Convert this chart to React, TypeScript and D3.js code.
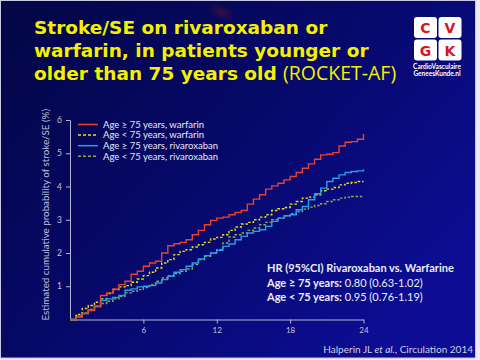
import { useEffect, useRef } from "react";
import * as d3 from "d3";

// months 0..24, every half month
const months = d3.range(0, 24.5, 0.5);

const warfarinOld = [
  0, 0.08, 0.18, 0.27, 0.38, 0.72, 0.8, 0.92, 1.05, 1.15, 1.36, 1.45, 1.6,
  1.7, 1.75, 2.0, 2.22, 2.28, 2.32, 2.4, 2.55, 2.68, 2.85, 2.98, 3.05, 3.08,
  3.15, 3.22, 3.28, 3.47, 3.62, 3.75, 3.92, 4.02, 4.1, 4.2, 4.3, 4.42, 4.55,
  4.68, 4.82, 4.95, 4.97, 5.02, 5.22, 5.33, 5.35, 5.42, 5.58,
];
const warfarinYoung = [
  0, 0.15, 0.33, 0.42, 0.52, 0.62, 0.78, 0.9, 0.98, 1.02, 1.12, 1.22, 1.32,
  1.42, 1.55, 1.7, 1.8, 1.95, 2.05, 2.1, 2.18, 2.25, 2.32, 2.42, 2.47, 2.55,
  2.68, 2.78, 2.87, 2.92, 3.0, 3.08, 3.15, 3.28, 3.33, 3.37, 3.47, 3.55, 3.65,
  3.68, 3.75, 3.87, 3.92, 3.97, 4.05, 4.1, 4.12, 4.15, 4.15,
];
const rivaOld = [
  0, 0.08, 0.18, 0.28, 0.4, 0.57, 0.62, 0.66, 0.72, 0.88, 0.92, 0.98, 1.0,
  1.02, 1.1, 1.2, 1.3, 1.42, 1.5, 1.6, 1.7, 1.82, 1.92, 2.0, 2.08, 2.2, 2.27,
  2.4, 2.5, 2.6, 2.65, 2.7, 2.8, 2.95, 3.05, 3.12, 3.15, 3.3, 3.4, 3.6, 3.78,
  3.95, 4.15, 4.25, 4.35, 4.42, 4.45, 4.47, 4.52,
];
const rivaYoung = [
  0, 0.1, 0.2, 0.3, 0.4, 0.48, 0.55, 0.62, 0.7, 0.8, 0.85, 0.9, 0.96, 1.05,
  1.15, 1.25, 1.32, 1.38, 1.45, 1.52, 1.65, 1.8, 1.9, 2.0, 2.1, 2.3, 2.48,
  2.55, 2.6, 2.68, 2.75, 2.85, 2.92, 3.0, 3.05, 3.12, 3.18, 3.25, 3.32, 3.38,
  3.43, 3.48, 3.55, 3.6, 3.65, 3.68, 3.7, 3.7, 3.7,
];

const seriesNames = [
  "Age ≥ 75 years, warfarin",
  "Age < 75 years, warfarin",
  "Age ≥ 75 years, rivaroxaban",
  "Age < 75 years, rivaroxaban",
];
const seriesValues = [warfarinOld, warfarinYoung, rivaOld, rivaYoung];
const seriesColors = ["#e8432e", "#e6df10", "#2a9ce6", "#8fa84a"];
const seriesDashed = [false, true, false, true];

const yTicks = [1, 2, 3, 4, 5, 6];
const xTicks = [6, 12, 18, 24];

const titleLines = [
  "Stroke/SE on rivaroxaban or",
  "warfarin, in patients younger or",
  "older than 75 years old",
];

const hrHeader = "HR (95%CI) Rivaroxaban vs. Warfarine";
const hrLabels = ["Age ≥ 75 years:", "Age < 75 years:"];
const hrValues = ["0.80 (0.63-1.02)", "0.95 (0.76-1.19)"];

const chartFont = "Lato, 'Open Sans', sans-serif";
const axisColor = "#b4b4d2";

export default function App() {
  const xAxisRef = useRef(null);
  const yAxisRef = useRef(null);

  const x = d3.scaleLinear().domain([0, 24]).range([70, 363.5]);
  const y = d3.scaleLinear().domain([0, 6]).range([319.5, 120]);

  useEffect(() => {
    const gx = d3.select(xAxisRef.current);
    gx.selectAll("*").remove();
    gx.call(
      d3.axisBottom(x).tickValues(xTicks).tickFormat(d3.format("d")).tickSize(4).tickSizeOuter(0).tickPadding(4)
    );
    gx.selectAll(".domain, line").attr("stroke", axisColor);
    gx.selectAll("text")
      .attr("fill", "#c4c4dc")
      .attr("font-size", 8)
      .attr("font-family", chartFont);

    const gy = d3.select(yAxisRef.current);
    gy.selectAll("*").remove();
    gy.call(
      d3.axisLeft(y).tickValues(yTicks).tickFormat(d3.format("d")).tickSize(4).tickSizeOuter(0).tickPadding(4)
    );
    gy.selectAll(".domain, line").attr("stroke", axisColor);
    gy.selectAll("text")
      .attr("fill", "#c4c4dc")
      .attr("font-size", 8.5)
      .attr("font-family", chartFont);
  }, []);

  const line = d3
    .line<number>()
    .x((_, i) => x(months[i]))
    .y((d) => y(d))
    .curve(d3.curveStepAfter);

  return (
    <svg
      width={480}
      height={360}
      style={{ position: "absolute", left: 0, top: 0 }}
    >
      <defs>
        <linearGradient id="bg" x1="0" y1="0" x2="1" y2="0.7">
          <stop offset="0" stopColor="#020644" />
          <stop offset="0.5" stopColor="#060868" />
          <stop offset="1" stopColor="#0c0d94" />
        </linearGradient>
        <radialGradient id="blob">
          <stop offset="0" stopColor="#5a1030" stopOpacity="0.6" />
          <stop offset="1" stopColor="#5a1030" stopOpacity="0" />
        </radialGradient>
      </defs>
      <rect width={480} height={360} fill="#eceaf6" />
      <rect x={0.5} y={0.5} width={475} height={357.5} fill="url(#bg)" stroke="#c8c8e0" />
      <ellipse cx={221} cy={12} rx={16} ry={8} fill="url(#blob)" transform="rotate(25 221 12)" />

      {/* title */}
      <g fill="#f4f000" fontFamily="'DejaVu Sans', Verdana, sans-serif" fontWeight="bold" fontSize={18.5}>
        {titleLines.map((t, i) => (
          <text key={i} x={34} y={34 + i * 23}>
            {t}
          </text>
        ))}
      </g>
      <text x={283} y={80} fill="#f4f000" fontFamily="'Open Sans', sans-serif" fontSize={19.5}>
        (ROCKET-AF)
      </text>

      {/* logo */}
      <g>
        {["C", "V", "G", "K"].map((l, i) => {
          const cx = 414 + (i % 2) * 24.5;
          const cy = 17 + Math.floor(i / 2) * 22.5;
          return (
            <g key={l}>
              <rect x={cx} y={cy} width={23} height={21} rx={3} fill="#ffffff" />
              <text
                x={cx + 11.5}
                y={cy + 16}
                textAnchor="middle"
                fill="#e0121c"
                fontFamily="'DejaVu Sans', sans-serif"
                fontWeight="bold"
                fontSize={14}
              >
                {l}
              </text>
            </g>
          );
        })}
        <text x={437} y={69} textAnchor="middle" fill="#ffffff" fontFamily={chartFont} fontWeight="bold" fontSize={6.5}>
          CardioVasculaire
        </text>
        <text x={437} y={76} textAnchor="middle" fill="#ffffff" fontFamily={chartFont} fontWeight="bold" fontSize={6.5}>
          GeneesKunde.nl
        </text>
      </g>

      {/* axes */}
      <g ref={xAxisRef} transform={`translate(0,${y(0)})`} />
      <g ref={yAxisRef} transform={`translate(${x(0)},0)`} />
      <text
        transform={`translate(49,${(y(0) + 110) / 2}) rotate(-90)`}
        textAnchor="middle"
        fill="#c0c0da"
        fontFamily={chartFont}
        fontSize={9.8}
      >
        Estimated cumulative probability of stroke/SE (%)
      </text>

      {/* curves */}
      {[3, 1, 2, 0].map((k) => (
        <path
          key={k}
          d={line(seriesValues[k]) || ""}
          fill="none"
          stroke={seriesColors[k]}
          strokeWidth={1.4}
          strokeDasharray={seriesDashed[k] ? "2.5,1.8" : undefined}
        />
      ))}

      {/* legend */}
      <g fontFamily={chartFont} fontSize={9.5} fill="#e8e8f4">
        {seriesNames.map((name, i) => {
          const ly = 124.5 + i * 10.6;
          return (
            <g key={i}>
              <line
                x1={78}
                x2={98}
                y1={ly}
                y2={ly}
                stroke={seriesColors[i]}
                strokeWidth={1.5}
                strokeDasharray={seriesDashed[i] ? "3,2" : undefined}
              />
              <text x={103} y={ly + 3.3}>
                {name}
              </text>
            </g>
          );
        })}
      </g>

      {/* hazard ratios */}
      <g fontFamily={chartFont} fontSize={11} fill="#ececf6">
        <text x={267} y={272} fontWeight="bold">
          {hrHeader}
        </text>
        {hrLabels.map((lab, i) => (
          <text key={i} x={267} y={287 + i * 14}>
            <tspan fontWeight="bold">{lab}</tspan> {hrValues[i]}
          </text>
        ))}
      </g>

      {/* source */}
      <text x={473} y={353} textAnchor="end" fontFamily={chartFont} fontSize={10} fill="#cfcfe2">
        Halperin JL <tspan fontStyle="italic">et al.</tspan>, Circulation 2014
      </text>
    </svg>
  );
}
